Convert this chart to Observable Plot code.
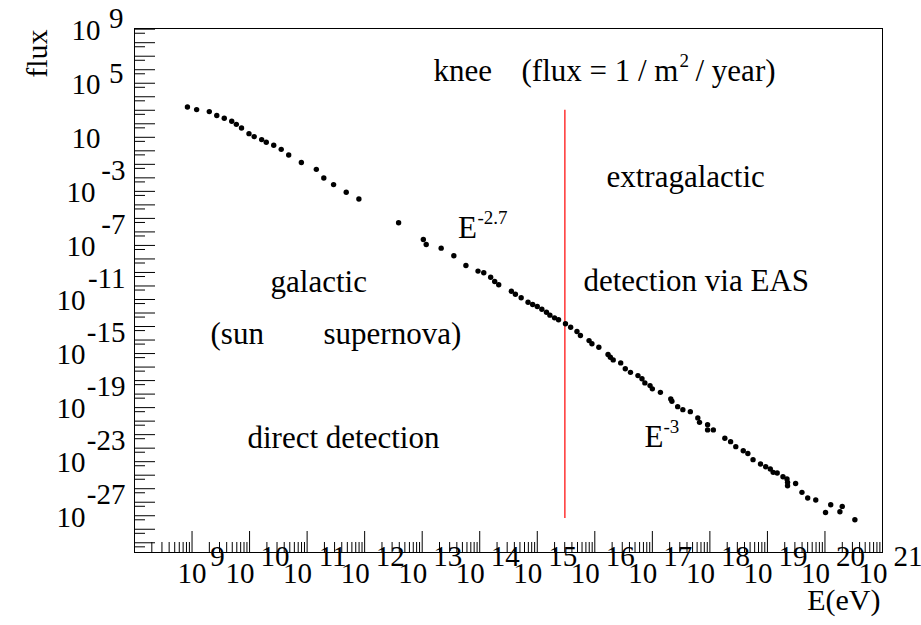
<!DOCTYPE html>
<html><head><meta charset="utf-8">
<script src="https://cdn.jsdelivr.net/npm/d3@7"></script>
<script src="https://cdn.jsdelivr.net/npm/@observablehq/plot@0.6"></script>
<style>body{margin:0;background:#fff} #chart svg{display:block;background:#fff}</style>
</head><body><div id="chart"></div>
<script>
// log10 of energy (eV)
const logE = [8.92, 9.08, 9.30, 9.43, 9.56, 9.69, 9.77, 9.86, 9.99, 10.08, 10.21, 10.29, 10.42, 10.55, 10.68, 10.90, 11.16, 11.29, 11.46, 11.68, 11.90,
  12.59, 13.02, 13.07, 13.33, 13.55, 13.76, 13.97, 14.07, 14.19, 14.26, 14.33, 14.55, 14.62, 14.72, 14.84, 14.92, 15.00, 15.08, 15.16, 15.22, 15.30, 15.37, 15.49, 15.58, 15.69, 15.75, 15.90, 15.95, 16.07,
  16.23, 16.27, 16.32, 16.45, 16.53, 16.62, 16.75, 16.82, 16.87, 16.96, 17.00, 17.14, 17.32, 17.34, 17.44, 17.53, 17.66, 17.79, 17.82, 17.96, 17.96, 18.06, 18.26, 18.36, 18.45, 18.58, 18.66, 18.75, 18.88, 18.97, 19.05, 19.10, 19.17, 19.27, 19.34, 19.35, 19.35, 19.49, 19.60, 19.70, 19.84, 20.01, 20.10, 20.26, 20.30, 20.52];
// log10 of flux
const logFlux = [3.24, 3.05, 2.90, 2.61, 2.41, 2.19, 1.96, 1.69, 1.27, 1.05, 0.83, 0.63, 0.41, 0.11, -0.31, -0.87, -1.37, -2.01, -2.50, -3.07, -3.57,
  -5.32, -6.56, -6.93, -7.20, -7.76, -8.48, -8.90, -9.02, -9.35, -9.67, -9.91, -10.39, -10.61, -10.87, -11.20, -11.37, -11.52, -11.72, -11.94, -12.16, -12.36, -12.50, -12.80, -13.05, -13.37, -13.67, -14.04, -14.28, -14.53,
  -15.07, -15.27, -15.47, -15.69, -16.13, -16.39, -16.63, -16.87, -17.17, -17.37, -17.61, -17.87, -18.36, -18.53, -18.93, -19.15, -19.30, -19.76, -20.09, -20.26, -20.65, -20.65, -21.27, -21.52, -21.89, -22.19, -22.39, -22.85, -23.17, -23.37, -23.54, -23.79, -23.84, -24.11, -24.28, -24.53, -24.78, -24.61, -25.27, -25.69, -25.84, -26.76, -26.19, -26.70, -26.31, -27.30];

// knee marker (log10 values)
const kneeLogE = 15.48;
const kneeLogFluxTop = 3.0;
const kneeLogFluxBottom = -27.2;

// tick labels (exponents)
const xLabelExps = [9, 10, 11, 12, 13, 14, 15, 16, 17, 18, 19, 20, 21];
const yLabelExps = [9, 5, 1, -3, -7, -11, -15, -19, -23, -27];

// annotation texts
const annotations = [
  {text: "knee", le: 13.196, lf: 5.87, big: true},
  {text: "(flux = 1 / m", le: 14.726, lf: 5.87, big: true},
  {text: "2", le: 17.472, lf: 6.68, big: false},
  {text: "/ year)", le: 17.75, lf: 5.87, big: true},
  {text: "extragalactic", le: 16.203, lf: -1.97, big: true},
  {text: "E", le: 13.622, lf: -5.71, big: true},
  {text: "-2.7", le: 13.961, lf: -4.93, big: false},
  {text: "galactic", le: 10.364, lf: -9.74, big: true},
  {text: "detection via EAS", le: 15.803, lf: -9.67, big: true},
  {text: "(sun", le: 9.321, lf: -13.59, big: true},
  {text: "supernova)", le: 11.285, lf: -13.59, big: true},
  {text: "direct detection", le: 9.964, lf: -21.29, big: true},
  {text: "E", le: 16.863, lf: -21.21, big: true},
  {text: "-3", le: 17.194, lf: -20.40, big: false}
];

const points = logE.map((e, i) => ({E: 10 ** e, flux: 10 ** logFlux[i]}));

const xMajor = d3.range(9, 21).map(n => 10 ** n);
const xMinor = d3.range(8, 21).flatMap(n => d3.range(2, 10).map(k => k * 10 ** n));
const yMajor = d3.range(-29, 10).map(n => 10 ** n);
const yMinor = d3.range(-30, 9).map(n => 5 * 10 ** n);

const W = 921, H = 625, mL = 134, mR = 39, mT = 28, mB = 73;
const fw = W - mL - mR, fh = H - mT - mB;
const font = "Liberation Serif";
const labSize = 29;

const yPos = yLabelExps.filter(d => d >= 0);
const yNegShort = yLabelExps.filter(d => d < 0 && d > -10);
const yNegLong = yLabelExps.filter(d => d <= -10);

const lab = {fontSize: labSize, fontFamily: font, fill: "black", ariaLabel: "ticklabel"};
const txt = {fontFamily: font, fill: "black"};

const plot = Plot.plot({
  width: W, height: H,
  marginLeft: mL, marginRight: mR, marginTop: mT, marginBottom: mB,
  x: {type: "log", domain: [1e8, 1e21], axis: null},
  y: {type: "log", domain: [10 ** -29.72, 10 ** 9.05], axis: null},
  marks: [
    Plot.tickX(xMinor, {x: d => d, insetTop: fh - 10, stroke: "black"}),
    Plot.tickX(xMajor, {x: d => d, insetTop: fh - 21, stroke: "black"}),
    Plot.tickY(yMajor, {y: d => d, insetRight: fw - 21, stroke: "black"}),
    Plot.tickY(yMinor, {y: d => d, insetRight: fw - 11, stroke: "black"}),
    Plot.frame({stroke: "black"}),
    Plot.ruleX([kneeLogE], {x: d => 10 ** d, y1: 10 ** kneeLogFluxTop, y2: 10 ** kneeLogFluxBottom, stroke: "#ff0000", strokeWidth: 1.2}),
    Plot.dot(points, {x: "E", y: "flux", r: 2.7, fill: "black"}),
    // x tick labels
    Plot.text(xLabelExps.filter(d => d < 10), {...lab, x: d => 10 ** d, text: () => "10", frameAnchor: "bottom", dy: 30, dx: 0}),
    Plot.text(xLabelExps.filter(d => d >= 10), {...lab, x: d => 10 ** d, text: () => "10", frameAnchor: "bottom", dy: 30, dx: -9.5}),
    Plot.text(xLabelExps, {...lab, x: d => 10 ** d, text: d => String(d), frameAnchor: "bottom", dy: 13, dx: 25.5}),
    // y tick labels
    Plot.text(yPos, {...lab, y: d => 10 ** d, text: () => "10", frameAnchor: "left", textAnchor: "end", dx: -34, dy: 1.5}),
    Plot.text(yNegShort, {...lab, y: d => 10 ** d, text: () => "10", frameAnchor: "left", textAnchor: "end", dx: -39, dy: 1.5}),
    Plot.text(yNegLong, {...lab, y: d => 10 ** d, text: () => "10", frameAnchor: "left", textAnchor: "end", dx: -49, dy: 1.5}),
    Plot.text(yPos.filter(d => d !== 1), {...lab, y: d => 10 ** d, text: d => String(d), frameAnchor: "left", textAnchor: "end", dx: -11, dy: -10}),
    Plot.text(yLabelExps.filter(d => d < 0), {...lab, y: d => 10 ** d, text: d => String(d), frameAnchor: "left", textAnchor: "end", dx: -9, dy: -21}),
    // axis titles
    Plot.text(["flux"], {...txt, text: d => d, frameAnchor: "top-left", rotate: -90, textAnchor: "end", dx: -108.5, dy: 1, fontSize: 30}),
    Plot.text(["E(eV)"], {...txt, text: d => d, frameAnchor: "bottom-right", textAnchor: "end", dx: -2, dy: 57, fontSize: 30}),
    // annotations
    Plot.text(annotations.filter(d => d.big), {...txt, x: d => 10 ** d.le, y: d => 10 ** d.lf, text: "text", textAnchor: "start", fontSize: 31}),
    Plot.text(annotations.filter(d => !d.big), {...txt, x: d => 10 ** d.le, y: d => 10 ** d.lf, text: "text", textAnchor: "start", fontSize: 19})
  ]
});
document.getElementById("chart").appendChild(plot);
// condense axis tick labels horizontally like the original rendering (Times advance widths: digit 0.5em, minus 0.333em)
d3.select(plot).selectAll('g[aria-label="ticklabel"] text').each(function() {
  const s = this.textContent;
  let em = 0;
  for (const c of s) em += c === "-" ? 0.333 : 0.5;
  this.setAttribute("textLength", (em * labSize * 0.8).toFixed(2));
  this.setAttribute("lengthAdjust", "spacingAndGlyphs");
});
</script>
</body></html>
